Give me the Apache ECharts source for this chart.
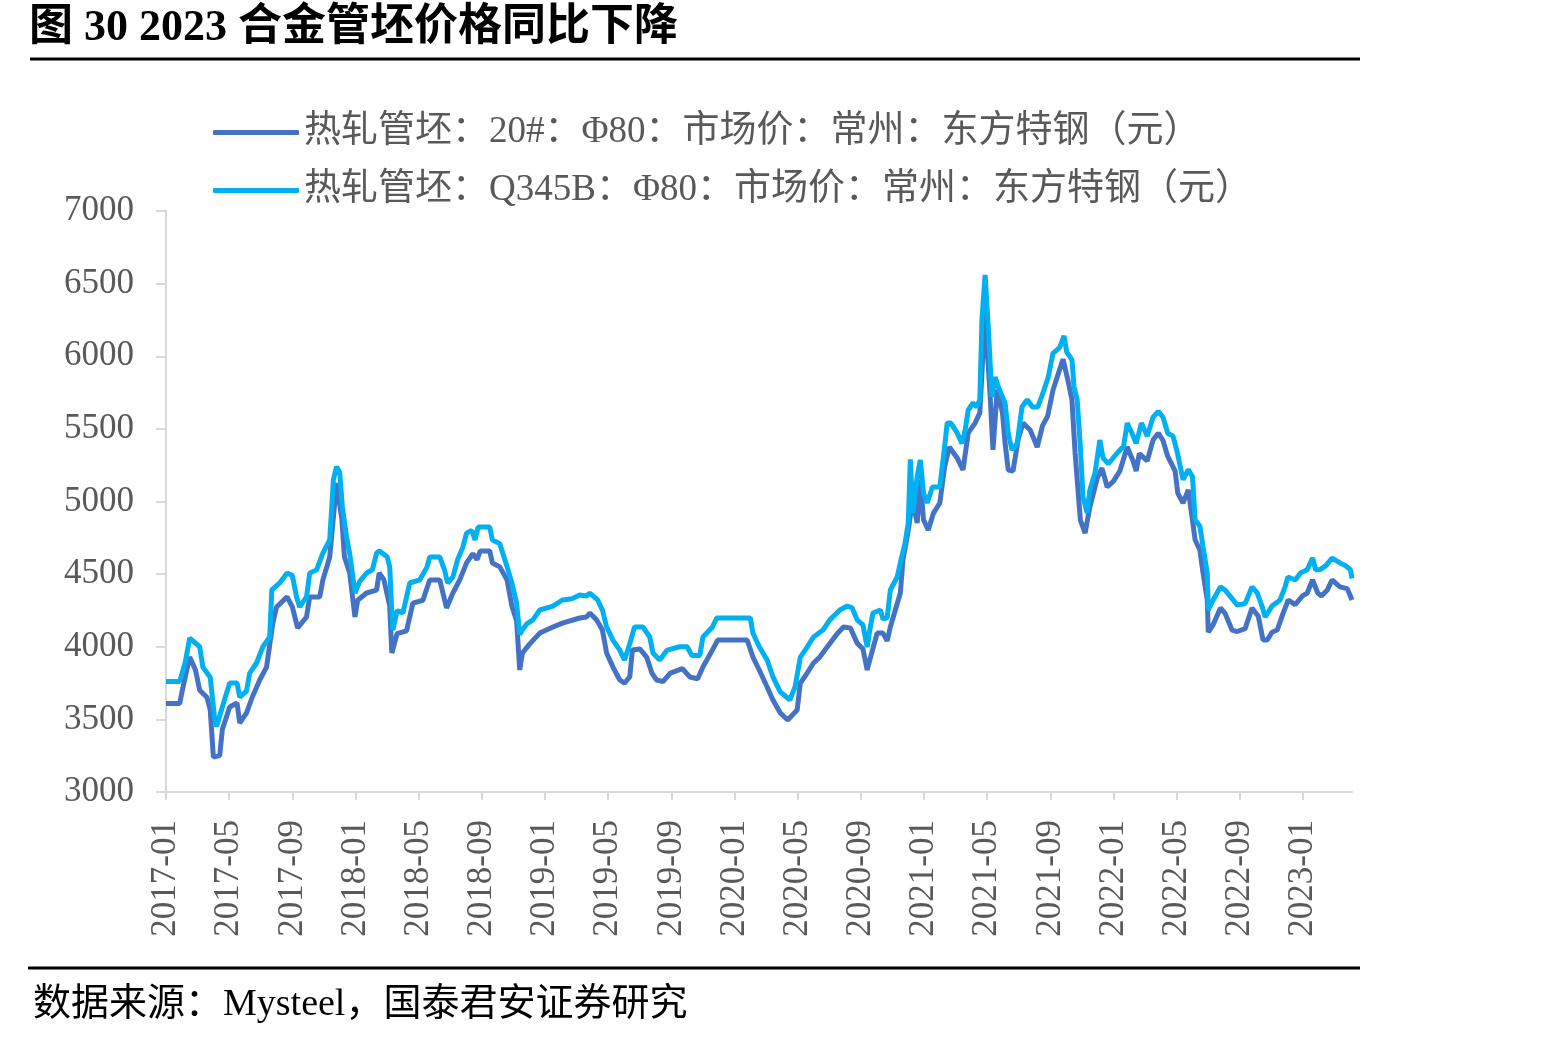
<!DOCTYPE html>
<html>
<head>
<meta charset="utf-8">
<script src="https://cdn.jsdelivr.net/npm/echarts@6/dist/echarts.min.js"></script>
<style>
  html, body { margin: 0; padding: 0; background: #fff; }
  #chart { width: 1567px; height: 1038px; }
</style>
</head>
<body>
<div id="chart"></div>
<script>
// x轴刻度
const tickLabels = ['2017-01', '2017-05', '2017-09', '2018-01', '2018-05', '2018-09', '2019-01',
  '2019-05', '2019-09', '2020-01', '2020-05', '2020-09', '2021-01', '2021-05', '2021-09',
  '2022-01', '2022-05', '2022-09', '2023-01'];
const endDate = '2023-04-04';

// 热轧管坯：20#：Φ80
const dates20 = [
  '2017-01-01', '2017-01-27', '2017-02-02', '2017-02-16', '2017-02-27', '2017-03-05', '2017-03-19', '2017-03-25',
  '2017-03-31', '2017-04-13', '2017-04-18', '2017-05-02', '2017-05-16', '2017-05-21', '2017-06-04', '2017-06-15',
  '2017-06-29', '2017-07-12', '2017-07-24', '2017-08-01', '2017-08-21', '2017-09-01', '2017-09-11', '2017-09-28',
  '2017-10-04', '2017-10-23', '2017-10-29', '2017-11-12', '2017-11-25', '2017-12-05', '2017-12-10', '2017-12-20',
  '2017-12-30', '2018-01-05', '2018-01-22', '2018-02-11', '2018-02-16', '2018-02-25', '2018-03-06', '2018-03-10',
  '2018-03-20', '2018-04-08', '2018-04-20', '2018-05-09', '2018-05-22', '2018-06-11', '2018-06-24', '2018-07-06',
  '2018-07-19', '2018-08-02', '2018-08-14', '2018-08-22', '2018-08-28', '2018-09-16', '2018-09-21', '2018-10-05',
  '2018-10-19', '2018-10-28', '2018-11-07', '2018-11-13', '2018-11-18', '2018-12-02', '2018-12-21', '2019-01-16',
  '2019-02-04', '2019-03-07', '2019-03-20', '2019-03-26', '2019-04-09', '2019-04-20', '2019-04-28', '2019-05-10',
  '2019-05-23', '2019-06-02', '2019-06-12', '2019-06-17', '2019-07-01', '2019-07-14', '2019-07-24', '2019-08-03',
  '2019-08-15', '2019-08-29', '2019-09-22', '2019-10-06', '2019-10-21', '2019-11-01', '2019-11-19', '2019-11-29',
  '2020-01-25', '2020-02-06', '2020-02-18', '2020-03-03', '2020-03-14', '2020-03-28', '2020-04-12', '2020-04-30',
  '2020-05-06', '2020-05-19', '2020-05-31', '2020-06-13', '2020-06-27', '2020-07-16', '2020-07-28', '2020-08-11',
  '2020-08-24', '2020-09-05', '2020-09-13', '2020-09-18', '2020-10-02', '2020-10-13', '2020-10-21', '2020-10-27',
  '2020-11-16', '2020-11-21', '2020-12-01', '2020-12-09', '2020-12-18', '2020-12-24', '2020-12-30', '2021-01-09',
  '2021-01-19', '2021-02-01', '2021-02-10', '2021-02-19', '2021-03-04', '2021-03-15', '2021-03-25', '2021-04-08',
  '2021-04-17', '2021-04-23', '2021-04-27', '2021-05-07', '2021-05-12', '2021-05-20', '2021-05-30', '2021-06-05',
  '2021-06-11', '2021-06-20', '2021-06-30', '2021-07-09', '2021-07-23', '2021-08-06', '2021-08-16', '2021-08-26',
  '2021-09-06', '2021-09-16', '2021-09-25', '2021-10-04', '2021-10-12', '2021-10-18', '2021-10-28', '2021-11-07',
  '2021-11-16', '2021-11-30', '2021-12-09', '2021-12-19', '2021-12-31', '2022-01-13', '2022-01-27', '2022-02-08',
  '2022-02-14', '2022-02-20', '2022-03-05', '2022-03-16', '2022-03-26', '2022-04-05', '2022-04-14', '2022-04-28',
  '2022-05-03', '2022-05-13', '2022-05-23', '2022-05-31', '2022-06-06', '2022-06-15', '2022-06-21', '2022-06-29',
  '2022-07-01', '2022-07-10', '2022-07-24', '2022-08-03', '2022-08-16', '2022-08-26', '2022-09-11', '2022-09-24',
  '2022-10-06', '2022-10-15', '2022-10-23', '2022-11-02', '2022-11-12', '2022-11-23', '2022-12-03', '2022-12-16',
  '2022-12-30', '2023-01-09', '2023-01-19', '2023-01-29', '2023-02-06', '2023-02-17', '2023-02-26', '2023-03-11',
  '2023-03-25', '2023-04-04'
];
const values20 = [
  3610, 3610, 3700, 3930, 3840, 3700, 3650, 3565,
  3240, 3250, 3430, 3585, 3613, 3475, 3545, 3654,
  3771, 3860, 4164, 4274, 4343, 4274, 4130, 4205,
  4343, 4343, 4460, 4618, 5127, 4880, 4618, 4508,
  4205, 4320, 4370, 4390, 4508, 4460, 4280, 3957,
  4090, 4110, 4300, 4320, 4460, 4460, 4267, 4370,
  4460, 4577, 4640, 4600, 4660, 4660, 4577, 4550,
  4460, 4280, 4180, 3840, 3957, 4020, 4094, 4136,
  4163, 4198, 4205, 4232, 4185, 4115, 3957, 3860,
  3771, 3750, 3792, 3977, 3985, 3929, 3819, 3771,
  3760, 3819, 3850, 3792, 3780, 3860, 3977, 4046,
  4046, 3929, 3840, 3723, 3633, 3544, 3496, 3564,
  3750, 3819, 3888, 3929, 3998, 4090, 4136, 4130,
  4025, 3985, 3840, 3910, 4094, 4094, 4040, 4136,
  4370, 4600, 4800, 5010, 4852, 5148, 4875, 4804,
  4920, 4990, 5237, 5375, 5300, 5217, 5472, 5540,
  5610, 6023, 6300, 5700, 5355, 5770, 5610, 5400,
  5217, 5210, 5430, 5540, 5490, 5375, 5520, 5590,
  5768, 5880, 5980, 5840, 5700, 5334, 4872, 4783,
  4962, 5160, 5230, 5100, 5140, 5210, 5375, 5280,
  5210, 5330, 5280, 5423, 5470, 5420, 5310, 5210,
  5058, 4990, 5080, 4870, 4735, 4666, 4508, 4322,
  4100, 4150, 4267, 4230, 4115, 4105, 4125, 4267,
  4210, 4046, 4046, 4100, 4115, 4230, 4322, 4290,
  4350, 4370, 4460, 4370, 4350, 4390, 4460, 4412,
  4400, 4322
];

// 热轧管坯：Q345B：Φ80
const datesQ345B = [
  '2017-01-01', '2017-01-27', '2017-02-08', '2017-02-16', '2017-03-05', '2017-03-11', '2017-03-25', '2017-04-03',
  '2017-04-07', '2017-04-18', '2017-05-02', '2017-05-16', '2017-05-21', '2017-06-04', '2017-06-10', '2017-06-23',
  '2017-07-05', '2017-07-18', '2017-07-22', '2017-08-07', '2017-08-21', '2017-09-01', '2017-09-09', '2017-09-15',
  '2017-09-28', '2017-10-04', '2017-10-17', '2017-10-29', '2017-11-12', '2017-11-19', '2017-11-25', '2017-12-01',
  '2017-12-06', '2017-12-14', '2017-12-20', '2017-12-26', '2017-12-30', '2018-01-09', '2018-01-22', '2018-02-03',
  '2018-02-11', '2018-02-16', '2018-03-01', '2018-03-06', '2018-03-10', '2018-03-12', '2018-03-20', '2018-04-01',
  '2018-04-14', '2018-05-03', '2018-05-17', '2018-05-22', '2018-06-11', '2018-06-20', '2018-06-26', '2018-07-06',
  '2018-07-15', '2018-07-25', '2018-08-02', '2018-08-12', '2018-08-18', '2018-08-24', '2018-09-16', '2018-09-21',
  '2018-10-05', '2018-10-19', '2018-10-28', '2018-11-07', '2018-11-13', '2018-11-18', '2018-11-27', '2018-12-08',
  '2018-12-21', '2019-01-16', '2019-02-04', '2019-02-22', '2019-03-07', '2019-03-20', '2019-03-26', '2019-04-11',
  '2019-04-20', '2019-04-28', '2019-05-10', '2019-05-23', '2019-06-02', '2019-06-12', '2019-06-21', '2019-07-07',
  '2019-07-20', '2019-07-26', '2019-08-09', '2019-08-23', '2019-09-17', '2019-10-01', '2019-10-10', '2019-10-25',
  '2019-11-01', '2019-11-19', '2019-11-27', '2020-01-31', '2020-02-06', '2020-02-18', '2020-03-03', '2020-03-14',
  '2020-03-28', '2020-04-12', '2020-04-16', '2020-04-26', '2020-05-06', '2020-05-19', '2020-05-31', '2020-06-19',
  '2020-07-02', '2020-07-21', '2020-08-05', '2020-08-14', '2020-08-24', '2020-09-05', '2020-09-13', '2020-09-18',
  '2020-09-24', '2020-10-08', '2020-10-13', '2020-10-21', '2020-10-27', '2020-11-10', '2020-11-16', '2020-11-25',
  '2020-12-01', '2020-12-05', '2020-12-10', '2020-12-18', '2020-12-24', '2020-12-30', '2021-01-07', '2021-01-17',
  '2021-02-01', '2021-02-10', '2021-02-15', '2021-02-22', '2021-03-04', '2021-03-13', '2021-03-19', '2021-03-25',
  '2021-04-04', '2021-04-11', '2021-04-17', '2021-04-21', '2021-04-27', '2021-05-03', '2021-05-10', '2021-05-16',
  '2021-05-22', '2021-05-30', '2021-06-05', '2021-06-11', '2021-06-18', '2021-06-28', '2021-07-07', '2021-07-17',
  '2021-07-27', '2021-08-07', '2021-08-17', '2021-08-27', '2021-09-06', '2021-09-19', '2021-09-27', '2021-10-02',
  '2021-10-12', '2021-10-16', '2021-10-22', '2021-10-28', '2021-11-03', '2021-11-11', '2021-11-16', '2021-11-26',
  '2021-12-05', '2021-12-11', '2021-12-21', '2022-01-08', '2022-01-20', '2022-01-27', '2022-02-06', '2022-02-14',
  '2022-02-24', '2022-03-05', '2022-03-16', '2022-03-26', '2022-04-05', '2022-04-14', '2022-04-24', '2022-05-02',
  '2022-05-13', '2022-05-23', '2022-05-31', '2022-06-06', '2022-06-15', '2022-06-21', '2022-06-29', '2022-07-01',
  '2022-07-10', '2022-07-24', '2022-08-03', '2022-08-12', '2022-08-26', '2022-09-11', '2022-09-24', '2022-10-04',
  '2022-10-13', '2022-10-19', '2022-11-02', '2022-11-17', '2022-11-27', '2022-12-02', '2022-12-16', '2022-12-26',
  '2023-01-09', '2023-01-19', '2023-01-25', '2023-02-03', '2023-02-15', '2023-02-26', '2023-03-11', '2023-03-21',
  '2023-03-31', '2023-04-04'
];
const valuesQ345B = [
  3760, 3760, 3900, 4060, 4000, 3860, 3790, 3520,
  3450, 3585, 3750, 3750, 3654, 3695, 3819, 3888,
  4000, 4067, 4391, 4439, 4508, 4490, 4343, 4274,
  4343, 4508, 4528, 4645, 4735, 5150, 5240, 5200,
  4962, 4756, 4640, 4480, 4370, 4450, 4508, 4530,
  4645, 4660, 4620, 4550, 4232, 4115, 4250, 4232,
  4439, 4460, 4550, 4618, 4618, 4530, 4439, 4480,
  4600, 4687, 4783, 4800, 4735, 4824, 4824, 4735,
  4710, 4550, 4440, 4300, 4085, 4115, 4160, 4185,
  4253, 4280, 4322, 4330, 4356, 4350, 4370, 4322,
  4253, 4136, 4046, 3977, 3909, 4020, 4136, 4136,
  4067, 3957, 3909, 3977, 4000, 4000, 3940, 3940,
  4067, 4136, 4198, 4198, 4094, 4000, 3909, 3792,
  3688, 3647, 3633, 3723, 3929, 3998, 4067, 4115,
  4185, 4253, 4280, 4270, 4185, 4150, 3998, 4115,
  4232, 4253, 4190, 4200, 4391, 4480, 4577, 4714,
  4852, 5290, 4920, 5170, 5286, 5058, 4990, 5100,
  5100, 5375, 5540, 5540, 5472, 5400, 5490, 5630,
  5678, 5650, 5700, 6250, 6560, 6200, 5720, 5857,
  5790, 5720, 5678, 5472, 5355, 5400, 5650, 5700,
  5650, 5650, 5747, 5857, 6020, 6062, 6140, 6030,
  5975, 5788, 5700, 5375, 5030, 4920, 5080, 5200,
  5423, 5300, 5260, 5334, 5380, 5540, 5470, 5400,
  5540, 5450, 5580, 5620, 5580, 5470, 5450, 5340,
  5150, 5220, 5170, 4873, 4830, 4687, 4508, 4253,
  4320, 4412, 4390, 4350, 4287, 4297, 4412, 4370,
  4280, 4205, 4280, 4320, 4412, 4480, 4460, 4508,
  4530, 4611, 4530, 4530, 4560, 4611, 4577, 4560,
  4530, 4470
];

// 日期 -> 自2017-01起的月份序号
function monthIndex(s) {
  const [y, m, d] = s.split('-').map(Number);
  return (y - 2017) * 12 + (m - 1) + (d ? (d - 1) / 30 : 0);
}
function indexLabel(v) {
  const i = Math.round(v);
  const y = 2017 + Math.floor(i / 12);
  const m = (i % 12) + 1;
  return y + '-' + (m < 10 ? '0' + m : m);
}

const serifFont = "'Liberation Serif', 'Noto Sans CJK SC', serif";
const tickValues = tickLabels.map(t => monthIndex(t));

const chart = echarts.init(document.getElementById('chart'));
chart.setOption({
  animation: false,
  backgroundColor: '#fff',
  color: ['#4472C4', '#00B0F0'],
  title: {
    text: '图 30 2023 合金管坯价格同比下降',
    left: 24,
    top: 2,
    textStyle: {
      fontFamily: serifFont,
      fontSize: 44,
      fontWeight: 'bold',
      color: '#000'
    }
  },
  legend: {
    orient: 'vertical',
    left: 208,
    top: 109,
    itemGap: 21,
    itemWidth: 86,
    itemHeight: 5,
    icon: 'roundRect',
    textStyle: {
      fontFamily: serifFont,
      fontSize: 37,
      color: '#595959'
    }
  },
  grid: {
    left: 166,
    right: 215,
    top: 211,
    bottom: 246
  },
  xAxis: {
    type: 'value',
    min: 0,
    max: monthIndex(endDate),
    splitLine: { show: false },
    axisLine: { lineStyle: { color: '#d9d9d9', width: 2 } },
    axisTick: {
      length: 8,
      customValues: tickValues,
      lineStyle: { color: '#d9d9d9', width: 2 }
    },
    axisLabel: {
      rotate: 90,
      margin: 28,
      customValues: tickValues,
      formatter: v => indexLabel(v),
      fontFamily: serifFont,
      fontSize: 35,
      color: '#595959'
    }
  },
  yAxis: {
    type: 'value',
    min: 3000,
    max: 7000,
    interval: 500,
    splitLine: { show: false },
    axisLine: { show: true, lineStyle: { color: '#d9d9d9', width: 2 } },
    axisTick: { show: true, length: 10, lineStyle: { color: '#d9d9d9', width: 2 } },
    axisLabel: {
      margin: 32,
      formatter: v => String(v),
      fontFamily: serifFont,
      fontSize: 35,
      color: '#595959'
    }
  },
  series: [
    {
      name: '热轧管坯：20#：Φ80：市场价：常州：东方特钢（元）',
      type: 'line',
      showSymbol: false,
      lineStyle: { width: 5 },
      data: dates20.map((d, i) => [monthIndex(d), values20[i]])
    },
    {
      name: '热轧管坯：Q345B：Φ80：市场价：常州：东方特钢（元）',
      type: 'line',
      showSymbol: false,
      lineStyle: { width: 5 },
      data: datesQ345B.map((d, i) => [monthIndex(d), valuesQ345B[i]])
    }
  ],
  graphic: [
    {
      type: 'line',
      shape: { x1: 30, y1: 59, x2: 1360, y2: 59 },
      style: { stroke: '#000', lineWidth: 3 }
    },
    {
      type: 'line',
      shape: { x1: 28, y1: 968, x2: 1360, y2: 968 },
      style: { stroke: '#000', lineWidth: 3 }
    },
    {
      type: 'text',
      left: 33,
      top: 986,
      style: {
        text: '数据来源：Mysteel，国泰君安证券研究',
        font: "38px 'Liberation Serif', 'Noto Sans CJK SC', serif",
        fill: '#000'
      }
    }
  ]
});
</script>
</body>
</html>
